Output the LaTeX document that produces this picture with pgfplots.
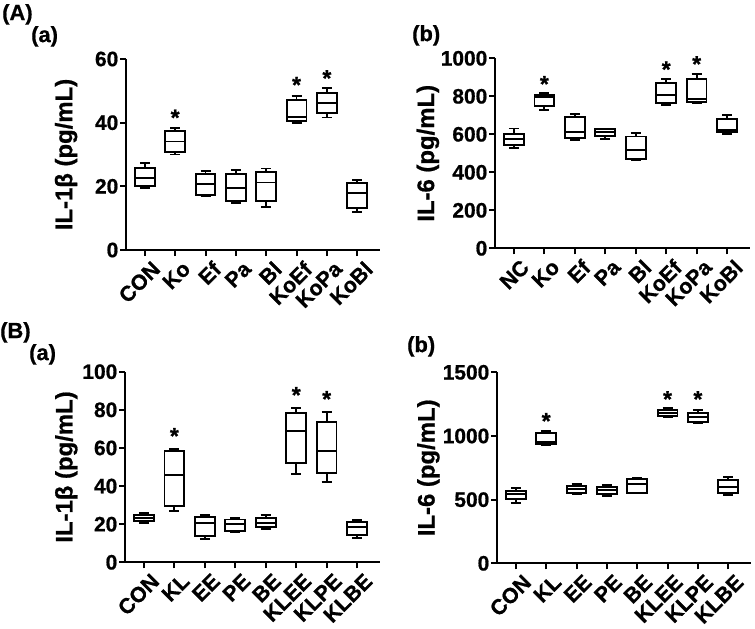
\documentclass[border=0pt]{standalone}
\usepackage{pgfplots}
\pgfplotsset{compat=1.18}
\usetikzlibrary{plotmarks}
\usepackage{fontspec}
\setmainfont{Liberation Sans}[BoldFeatures={FakeBold=0.8}]
\newcommand{\tfont}{\bfseries\fontsize{21}{21}\selectfont}
\newcommand{\xfont}{\bfseries\fontsize{21.5}{21.5}\selectfont}
\newcommand{\lfont}{\bfseries\fontsize{24}{24}\selectfont}
\newcommand{\pfont}{\bfseries\fontsize{22}{22}\selectfont}
\pgfplotsset{
  panel/.style={
    scale only axis,
    anchor=south west,
    xmin=-0.62, xmax=7.75,
    ymin=0,
    axis x line*=bottom, axis y line*=left,
    axis line style={-, line width=2.2bp},
    tick style={black, line width=2bp},
    tick align=outside,
    major tick length=6bp,
    xtick={0,...,7},
    /pgf/number format/assume math mode=true,
    /pgf/number format/1000 sep={},
    yticklabel style={font=\tfont, inner sep=1.5bp},
    xticklabel style={font=\xfont, xshift=6bp, yshift=-3bp, rotate=45, anchor=north east, inner sep=0.5bp},
    clip=false,
  },
  wl/.style={black, line width=1.8bp, mark=none, solid},
  bxs/.style={black, line width=1.8bp, mark=none, solid, fill=white, line join=miter},
  stars/.style={only marks, mark=text, text mark={*}, text mark as node=true,
    text mark style={font=\bfseries\fontsize{23}{23}\selectfont, inner sep=0pt, anchor=center}},
}
% box: position, lower whisker, lower quartile, median, upper quartile, upper whisker
\newcommand{\bp}[6]{%
  \pgfmathsetmacro{\bl}{#1-0.325}\pgfmathsetmacro{\br}{#1+0.325}%
  \pgfmathsetmacro{\cl}{#1-0.165}\pgfmathsetmacro{\cr}{#1+0.165}%
  \addplot[wl] coordinates {(#1,#2) (#1,#6)};
  \addplot[wl] coordinates {(\cl,#2) (\cr,#2)};
  \addplot[wl] coordinates {(\cl,#6) (\cr,#6)};
  \addplot[bxs] coordinates {(\bl,#3) (\br,#3) (\br,#5) (\bl,#5)} -- cycle;
  \addplot[wl] coordinates {(\bl,#4) (\br,#4)};
}
\begin{document}
\begin{tikzpicture}
\useasboundingbox (0,0) rectangle (755bp,-629bp);
% panel labels
\node[anchor=north west, inner sep=0pt, font=\pfont] at (2bp,-4bp) {(A)};
\node[anchor=north west, inner sep=0pt, font=\pfont] at (31bp,-26bp) {(a)};
\node[anchor=north west, inner sep=0pt, font=\pfont] at (412bp,-25bp) {(b)};
\node[anchor=north west, inner sep=0pt, font=\pfont] at (0bp,-322bp) {(B)};
\node[anchor=north west, inner sep=0pt, font=\pfont] at (29bp,-344bp) {(a)};
\node[anchor=north west, inner sep=0pt, font=\pfont] at (407bp,-336bp) {(b)};

% A(a)
\begin{axis}[panel, at={(126bp,-250bp)}, width=254bp, height=191bp,
  ymax=60, ytick={0,20,40,60},
  xticklabels={CON,Ko,Ef,Pa,Bl,KoEf,KoPa,KoBl},
  ylabel={IL-1β (pg/mL)},
  every axis y label/.style={at={(axis description cs:-0.236,0.5)}, rotate=90, anchor=center, font=\lfont}]
\bp{0}{19.6}{20.2}{22.6}{25.7}{27.3}
\bp{1}{30.0}{30.8}{34.1}{37.3}{38.3}
\bp{2}{16.8}{17.4}{20.7}{23.8}{24.8}
\bp{3}{14.7}{15.4}{19.4}{24.0}{25.1}
\bp{4}{13.6}{15.4}{21.2}{24.5}{25.6}
\bp{5}{39.9}{40.4}{41.9}{47.0}{48.4}
\bp{6}{41.6}{43.0}{46.3}{49.3}{50.9}
\bp{7}{12.0}{13.3}{17.8}{21.0}{22.0}
\addplot[stars] coordinates {(1,41.6) (5,51.9) (6,54.0)};
\end{axis}

% A(b)
\begin{axis}[panel, at={(495bp,-248.3bp)}, width=255bp, height=190bp,
  ymax=1000, ytick={0,200,400,600,800,1000},
  xticklabels={NC,Ko,Ef,Pa,Bl,KoEf,KoPa,KoBl},
  ylabel={IL-6 (pg/mL)},
  every axis y label/.style={at={(axis description cs:-0.263,0.5)}, rotate=90, anchor=center, font=\lfont}]
\bp{0}{526}{544}{575}{601}{631}
\bp{1}{728}{749}{795}{807}{816}
\bp{2}{570}{579}{614}{689}{707}
\bp{3}{574}{591}{612}{626}{631}
\bp{4}{465}{470}{517}{588}{605}
\bp{5}{754}{763}{807}{872}{891}
\bp{6}{766}{772}{784}{889}{916}
\bp{7}{602}{614}{623}{679}{702}
\addplot[stars] coordinates {(1,865) (5,942) (6,970)};
\end{axis}

% B(a)
\begin{axis}[panel, at={(125bp,-562.3bp)}, width=255bp, height=190.6bp,
  ymax=100, ytick={0,20,40,60,80,100},
  xticklabels={CON,KL,EE,PE,BE,KLEE,KLPE,KLBE},
  ylabel={IL-1β (pg/mL)},
  every axis y label/.style={at={(axis description cs:-0.23,0.5)}, rotate=90, anchor=center, font=\lfont}]
\bp{0}{20.8}{21.8}{23.4}{24.8}{25.7}
\bp{1}{27.1}{29.7}{45.8}{58.2}{59.5}
\bp{2}{12.1}{13.8}{20.8}{23.9}{24.8}
\bp{3}{16.1}{16.6}{19.9}{22.5}{23.2}
\bp{4}{17.5}{18.4}{20.5}{23.2}{24.8}
\bp{5}{46.3}{51.9}{69.1}{78.5}{81.0}
\bp{6}{42.3}{47.0}{58.6}{73.6}{78.9}
\bp{7}{12.8}{14.2}{18.4}{21.1}{22.2}
\addplot[stars] coordinates {(1,66.3) (5,87.8) (6,85.7)};
\end{axis}

% B(b)
\begin{axis}[panel, at={(497bp,-563.3bp)}, width=254bp, height=191bp,
  ymax=1500, ytick={0,500,1000,1500},
  xticklabels={CON,KL,EE,PE,BE,KLEE,KLPE,KLBE},
  ylabel={IL-6 (pg/mL)},
  every axis y label/.style={at={(axis description cs:-0.27,0.5)}, rotate=90, anchor=center, font=\lfont}]
\bp{0}{476}{503}{542}{570}{589}
\bp{1}{929}{937}{950}{1021}{1041}
\bp{2}{542}{555}{583}{609}{620}
\bp{3}{529}{544}{576}{597}{615}
\bp{4}{550}{555}{623}{660}{672}
\bp{5}{1147}{1157}{1178}{1204}{1217}
\bp{6}{1104}{1112}{1151}{1183}{1204}
\bp{7}{536}{555}{597}{654}{680}
\addplot[stars] coordinates {(1,1118) (5,1290) (6,1290)};
\end{axis}
\end{tikzpicture}
\end{document}
